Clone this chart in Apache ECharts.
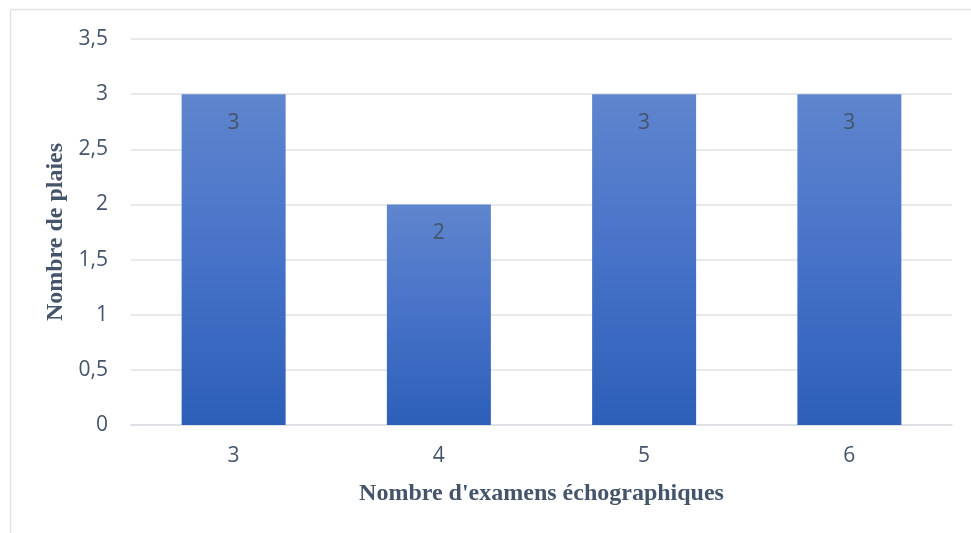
<!DOCTYPE html>
<html>
<head>
<meta charset="utf-8">
<script src="https://cdn.jsdelivr.net/npm/echarts@6/dist/echarts.min.js"></script>
<style>html,body{margin:0;padding:0;background:#fff;}#c{width:971px;height:533px;}</style>
</head>
<body>
<div id="c"></div>
<script>
const categories = ['3', '4', '5', '6'];
const values = [3, 2, 3, 3];
const yTicks = [0, 0.5, 1, 1.5, 2, 2.5, 3, 3.5];

const chart = echarts.init(document.getElementById('c'), null, {renderer: 'canvas'});
const txt = '#44546a';
chart.setOption({
  animation: false,
  backgroundColor: '#ffffff',
  graphic: [
    {type: 'line', shape: {x1: 10.5, y1: 9.5, x2: 971, y2: 9.5}, style: {stroke: '#dfe2e6', lineWidth: 1.5}},
    {type: 'line', shape: {x1: 10.5, y1: 9.5, x2: 10.5, y2: 533}, style: {stroke: '#dfe2e6', lineWidth: 1.5}}
  ],
  grid: {left: 131, right: 19, top: 39, bottom: 108, containLabel: false},
  xAxis: {
    type: 'category',
    data: categories,
    name: "Nombre d'examens échographiques",
    nameLocation: 'middle',
    nameGap: 57,
    nameTextStyle: {fontFamily: 'Liberation Serif', fontWeight: 'bold', fontSize: 24, color: txt},
    axisLine: {lineStyle: {color: '#dadde2', width: 1.5}},
    axisTick: {show: false},
    axisLabel: {fontFamily: 'Open Sans', fontSize: 21, color: txt, margin: 21}
  },
  yAxis: {
    type: 'value',
    min: yTicks[0],
    max: yTicks[yTicks.length - 1],
    interval: 0.5,
    name: 'Nombre de plaies',
    nameLocation: 'middle',
    nameGap: 59,
    nameTextStyle: {fontFamily: 'Liberation Serif', fontWeight: 'bold', fontSize: 24, color: txt},
    axisLine: {show: false},
    axisTick: {show: false},
    splitLine: {lineStyle: {color: '#dfe2e6', width: 1.5}},
    axisLabel: {
      fontFamily: 'Open Sans', fontSize: 21, color: txt, margin: 23,
      formatter: v => String(v).replace('.', ',')
    }
  },
  series: [{
    type: 'bar',
    data: values,
    barWidth: 104,
    itemStyle: {
      color: new echarts.graphic.LinearGradient(0, 0, 0, 1, [
        {offset: 0, color: '#5f85cd'},
        {offset: 0.5, color: '#4672c8'},
        {offset: 1, color: '#2d5fb8'}
      ])
    },
    label: {
      show: true,
      position: 'insideTop',
      distance: 18,
      fontFamily: 'Open Sans',
      fontSize: 21,
      color: txt
    }
  }]
});
</script>
</body>
</html>
